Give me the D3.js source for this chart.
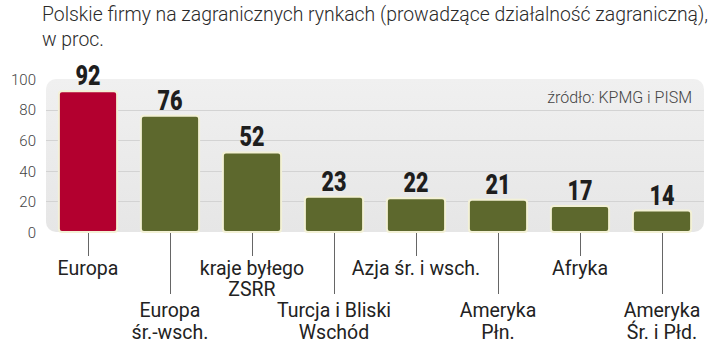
<!DOCTYPE html>
<html><head><meta charset="utf-8">
<script src="https://cdn.jsdelivr.net/npm/d3@7"></script>
<style>
html,body{margin:0;padding:0;background:#fff;}
svg{display:block;}
</style></head>
<body>
<svg id="c" width="720" height="348"></svg>
<script>
const categories = [["Europa"],["Europa","śr.-wsch."],["kraje byłego","ZSRR"],["Turcja i Bliski","Wschód"],["Azja śr. i wsch."],["Ameryka","Płn."],["Afryka"],["Ameryka","Śr. i Płd."]];
const values = [92,76,52,23,22,21,17,14];
const yTicks = [0,20,40,60,80,100];
const titleLines = ["Polskie firmy na zagranicznych rynkach (prowadzące działalność zagraniczną),","w proc."];
const sourceText = "źródło: KPMG i PISM";

const svg = d3.select("#c");
const x = d3.scaleBand().domain(d3.range(categories.length)).range([47,703]).paddingInner(0.29).paddingOuter(0.145);
const y = d3.scaleLinear().domain([0,100]).range([232,79]);

const lightFont = "Roboto, 'Open Sans', sans-serif";

// title
svg.append("g").selectAll("text").data(titleLines).join("text")
  .attr("x",42).attr("y",(d,i)=>20.5+i*25)
  .attr("font-family",lightFont).attr("font-weight",300).attr("font-size",19.4)
  .attr("fill","#2a2a2a").text(d=>d);

// panel
const defs = svg.append("defs");
const grad = defs.append("linearGradient").attr("id","pg").attr("x1",0).attr("x2",0).attr("y1",0).attr("y2",1);
grad.append("stop").attr("offset","0%").attr("stop-color","#f0f0f0");
grad.append("stop").attr("offset","100%").attr("stop-color","#e6e6e6");
svg.append("rect").attr("x",46).attr("y",y(100)).attr("width",658).attr("height",y(0)-y(100))
  .attr("rx",10).attr("fill","url(#pg)");

// gridlines
svg.append("g").selectAll("line").data(yTicks.filter(d=>d>0&&d<100)).join("line")
  .attr("x1",46).attr("x2",704).attr("y1",d=>Math.round(y(d))+0.5).attr("y2",d=>Math.round(y(d))+0.5)
  .attr("stroke","#d3d3d3").attr("stroke-width",1);

// y axis labels
const yAxis = d3.axisLeft(y).tickValues(yTicks).tickSize(0).tickPadding(0);
const ya = svg.append("g").attr("transform","translate(36,0)").call(yAxis);
ya.select(".domain").remove();
ya.selectAll("text").attr("font-family",lightFont).attr("font-weight",300).attr("font-size",15).attr("fill","#444").attr("dy","0.35em");

// source
svg.append("text").attr("x",692).attr("y",102.5).attr("text-anchor","end")
  .attr("font-family",lightFont).attr("font-weight",300).attr("font-size",16).attr("fill","#444").text(sourceText);

// tick lines
svg.append("g").selectAll("line").data(values).join("line")
  .attr("x1",(d,i)=>Math.round(x(i)+x.bandwidth()/2)+0.5).attr("x2",(d,i)=>Math.round(x(i)+x.bandwidth()/2)+0.5)
  .attr("y1",y(0)+1).attr("y2",(d,i)=>i%2===0?256:294)
  .attr("stroke","#666").attr("stroke-width",1);

// bars
svg.append("g").selectAll("rect").data(values).join("rect")
  .attr("x",(d,i)=>x(i)).attr("y",d=>y(d)).attr("width",x.bandwidth()).attr("height",d=>y(0)-y(d))
  .attr("rx",3).attr("fill",(d,i)=>i===0?"#b3002f":"#5d682d")
  .attr("stroke","#f3f1d6").attr("stroke-width",2);

// value labels
svg.append("g").selectAll("text").data(values).join("text")
  .attr("transform",(d,i)=>`translate(${x(i)+x.bandwidth()/2},${y(d)-6}) scale(0.8,1)`)
  .attr("text-anchor","middle").attr("font-family",lightFont).attr("font-weight",900).attr("font-size",27)
  .attr("fill","#1e1e1e").text(d=>d);

// category labels
const lg = svg.append("g").selectAll("text").data(categories).join("text")
  .attr("text-anchor","middle").attr("font-family",lightFont).attr("font-weight",400).attr("font-size",19.5)
  .attr("fill","#222");
lg.each(function(lines,i){
  const base = i%2===0?274.5:317;
  d3.select(this).selectAll("tspan").data(lines).join("tspan")
    .attr("x",x(i)+x.bandwidth()/2).attr("y",(d,j)=>base+j*21.5).text(d=>d);
});
</script>
</body></html>
